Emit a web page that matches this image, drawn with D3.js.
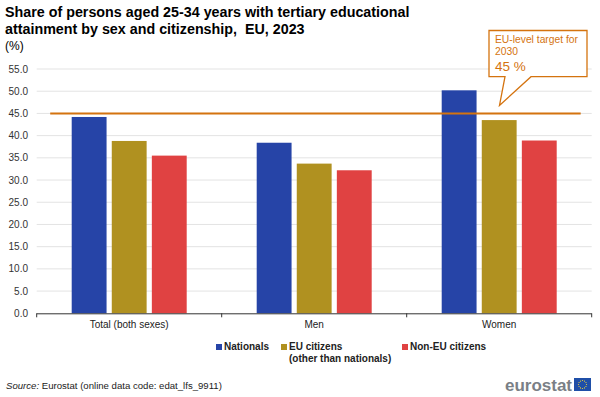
<!DOCTYPE html>
<html><head><meta charset="utf-8">
<script src="https://cdn.jsdelivr.net/npm/d3@7"></script>
<style>
body{margin:0;background:#fff;}
svg{display:block;font-family:"Liberation Sans",Arial,sans-serif;}
</style></head>
<body>
<svg id="chart" width="600" height="397"></svg>
<script>
const categories = ["Total (both sexes)", "Men", "Women"];
const seriesNames = ["Nationals", "EU citizens", "Non-EU citizens"];
const nationals = [44.2, 38.4, 50.2];
const euCitizens = [38.8, 33.7, 43.5];
const nonEuCitizens = [35.5, 32.2, 38.9];
const yTicks = [0, 5, 10, 15, 20, 25, 30, 35, 40, 45, 50, 55];
const target = 45;
const colors = ["#2644A7", "#B09120", "#E04242"];
const orange = "#D4730F";

(function() {
const series = [nationals, euCitizens, nonEuCitizens];
const svg = d3.select("#chart");

const pLeft = 36.7, pRight = 591.7, pTop = 69, pBottom = 313.3;
const y = d3.scaleLinear().domain([0, 55]).range([pBottom, pTop]);
const x0 = d3.scaleBand().domain(categories).range([pLeft, pRight]).padding(0);
const x1 = d3.scaleBand().domain(seriesNames).range([35, 150]).paddingInner(0.13).paddingOuter(0);

// grid
svg.append("g").selectAll("line").data(yTicks.filter(d => d > 0)).join("line")
  .attr("x1", pLeft).attr("x2", pRight)
  .attr("y1", d => y(d)).attr("y2", d => y(d))
  .attr("stroke", "#e3e3e3").attr("stroke-width", 1);

// y labels
svg.append("g").selectAll("text").data(yTicks).join("text")
  .attr("x", 28).attr("y", d => y(d) + 3.5)
  .attr("text-anchor", "end").attr("font-size", 10).attr("fill", "#333")
  .text(d => d.toFixed(1));

// bars
const groups = svg.append("g").selectAll("g").data(categories).join("g")
  .attr("transform", c => `translate(${x0(c)},0)`);
groups.selectAll("rect").data((c, i) => series.map((s, k) => ({name: seriesNames[k], v: s[i], k})))
  .join("rect")
  .attr("x", d => x1(d.name)).attr("width", x1.bandwidth())
  .attr("y", d => y(d.v)).attr("height", d => y(0) - y(d.v))
  .attr("fill", d => colors[d.k]);

// x axis
const xAxis = svg.append("g");
xAxis.append("line").attr("x1", pLeft).attr("x2", pRight).attr("y1", pBottom + 0.5).attr("y2", pBottom + 0.5)
  .attr("stroke", "#333").attr("stroke-width", 1);
xAxis.selectAll("line.tick").data([pLeft, ...categories.map(c => x0(c) + x0.bandwidth())]).join("line")
  .attr("class", "tick")
  .attr("x1", d => d).attr("x2", d => d).attr("y1", pBottom).attr("y2", pBottom + 4)
  .attr("stroke", "#333");
xAxis.selectAll("text").data(categories).join("text")
  .attr("x", c => x0(c) + x0.bandwidth() / 2).attr("y", pBottom + 15)
  .attr("text-anchor", "middle").attr("font-size", 10).attr("fill", "#222")
  .text(c => c);

// target line
svg.append("line").attr("x1", pLeft + 13.5).attr("x2", pRight - 11)
  .attr("y1", y(target)).attr("y2", y(target))
  .attr("stroke", orange).attr("stroke-width", 2);

// callout
const bx0 = 489, bx1 = 587, by0 = 30.5, by1 = 76.7;
svg.append("path")
  .attr("d", `M${bx0},${by0}H${bx1}V${by1}H531L499.5,105.5L505,${by1}H${bx0}Z`)
  .attr("fill", "#fff").attr("stroke", orange).attr("stroke-width", 1.3);
svg.append("text").attr("x", 495).attr("y", 43).attr("font-size", 10.3).attr("fill", orange).text("EU-level target for");
svg.append("text").attr("x", 495).attr("y", 54.5).attr("font-size", 10.3).attr("fill", orange).text("2030");
svg.append("text").attr("x", 495).attr("y", 70.5).attr("font-size", 13.5).attr("fill", orange).text("45 %");

// title
svg.append("text").attr("x", 5).attr("y", 17).attr("font-size", 14.3).attr("font-weight", "bold").attr("fill", "#000")
  .text("Share of persons aged 25-34 years with tertiary educational");
svg.append("text").attr("x", 5).attr("y", 34).attr("font-size", 14.3).attr("font-weight", "bold").attr("fill", "#000")
  .text("attainment by sex and citizenship,\u00A0 EU, 2023");
svg.append("text").attr("x", 5).attr("y", 50).attr("font-size", 12).attr("fill", "#000").text("(%)");

// legend
const legendItems = [
  {x: 216, lines: ["Nationals"]},
  {x: 281, lines: ["EU citizens", "(other than nationals)"]},
  {x: 402, lines: ["Non-EU citizens"]}
];
const lg = svg.append("g").selectAll("g").data(legendItems).join("g");
lg.append("rect").attr("x", d => d.x).attr("y", 344).attr("width", 6).attr("height", 6)
  .attr("fill", (d, i) => colors[i]);
lg.each(function(d) {
  const g = d3.select(this);
  d.lines.forEach((t, j) => {
    g.append("text").attr("x", d.x + 8).attr("y", 350 + j * 11.5)
      .attr("font-size", 10).attr("font-weight", "bold").attr("fill", "#222").text(t);
  });
});

// source
const src = svg.append("text").attr("x", 6).attr("y", 389).attr("font-size", 9.6).attr("fill", "#222");
src.append("tspan").attr("font-style", "italic").text("Source:");
src.append("tspan").text(" Eurostat (online data code: edat_lfs_9911)");

// logo
svg.append("text").attr("x", 572).attr("y", 391).attr("text-anchor", "end")
  .attr("font-size", 17).attr("font-weight", "bold").attr("fill", "#7a7f86").text("eurostat");
svg.append("rect").attr("x", 574).attr("y", 378).attr("width", 17).attr("height", 13).attr("fill", "#1f4fa8");
const stars = d3.range(12).map(i => i * Math.PI * 2 / 12);
svg.append("g").selectAll("circle").data(stars).join("circle")
  .attr("cx", a => 582.5 + 4 * Math.cos(a)).attr("cy", a => 384.5 + 4 * Math.sin(a))
  .attr("r", 0.6).attr("fill", "#f2d53c");
})();
</script>
</body></html>
